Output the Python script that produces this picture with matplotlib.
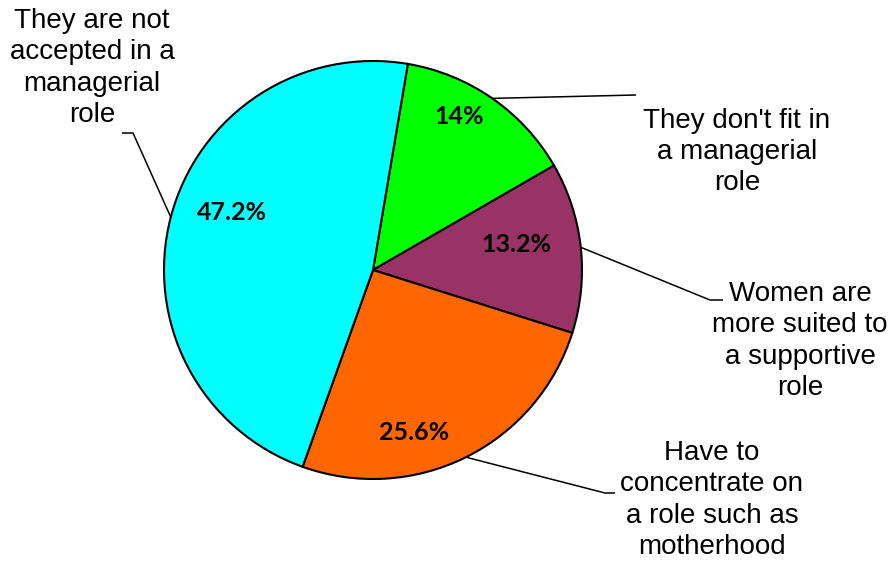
import numpy as np
import matplotlib.pyplot as plt

labels = [
    "They don't fit in\na managerial\nrole",
    "Women are\nmore suited to\na supportive\nrole",
    "Have to\nconcentrate on\na role such as\nmotherhood",
    "They are not\naccepted in a\nmanagerial\nrole",
]
shares = [14.0, 13.2, 25.6, 47.2]
pct_labels = ["14%", "13.2%", "25.6%", "47.2%"]
colors = ["#00FF00", "#993366", "#FF6600", "#00FFFF"]

W, H = 894, 566
CX, CY, R = 373, H - 270, 209

fig = plt.figure(figsize=(W / 100, H / 100), dpi=100)
ax = fig.add_axes([0, 0, 1, 1])

wedges, _ = ax.pie(shares, colors=colors, startangle=80.4, counterclock=False,
                   center=(CX, CY), radius=R,
                   wedgeprops=dict(edgecolor="black", linewidth=1.5))
ax.set_xlim(0, W)
ax.set_ylim(0, H)
ax.set_aspect("equal")
ax.axis("off")

# leader-line path (after the wedge edge) and label centre, in pixels from top-left
leaders = [
    [(636, 95)],
    [(710, 300), (723, 300)],
    [(605, 493), (615, 493)],
    [(133, 133), (122, 133)],
]
text_pos = [(737, 152), (800, 341), (712, 500), (92, 68)]
pct_pos = [(459, 117), (516, 244), (414, 433), (232, 213)]

for w, path, tp, pp, lab, pct in zip(wedges, leaders, text_pos, pct_pos, labels, pct_labels):
    mid = np.deg2rad((w.theta1 + w.theta2) / 2)
    xs = [CX + R * np.cos(mid)] + [p[0] for p in path]
    ys = [CY + R * np.sin(mid)] + [H - p[1] for p in path]
    ax.plot(xs, ys, color="black", lw=1.1, solid_capstyle="butt")
    ax.text(tp[0], H - tp[1], lab, ha="center", va="center", ma="center",
            fontsize=20, family="Liberation Sans", linespacing=1.27)
    ax.text(pp[0], H - pp[1], pct, ha="center", va="center",
            fontsize=18, fontweight="bold", family="Lato")

fig.savefig("out.png", dpi=100)
